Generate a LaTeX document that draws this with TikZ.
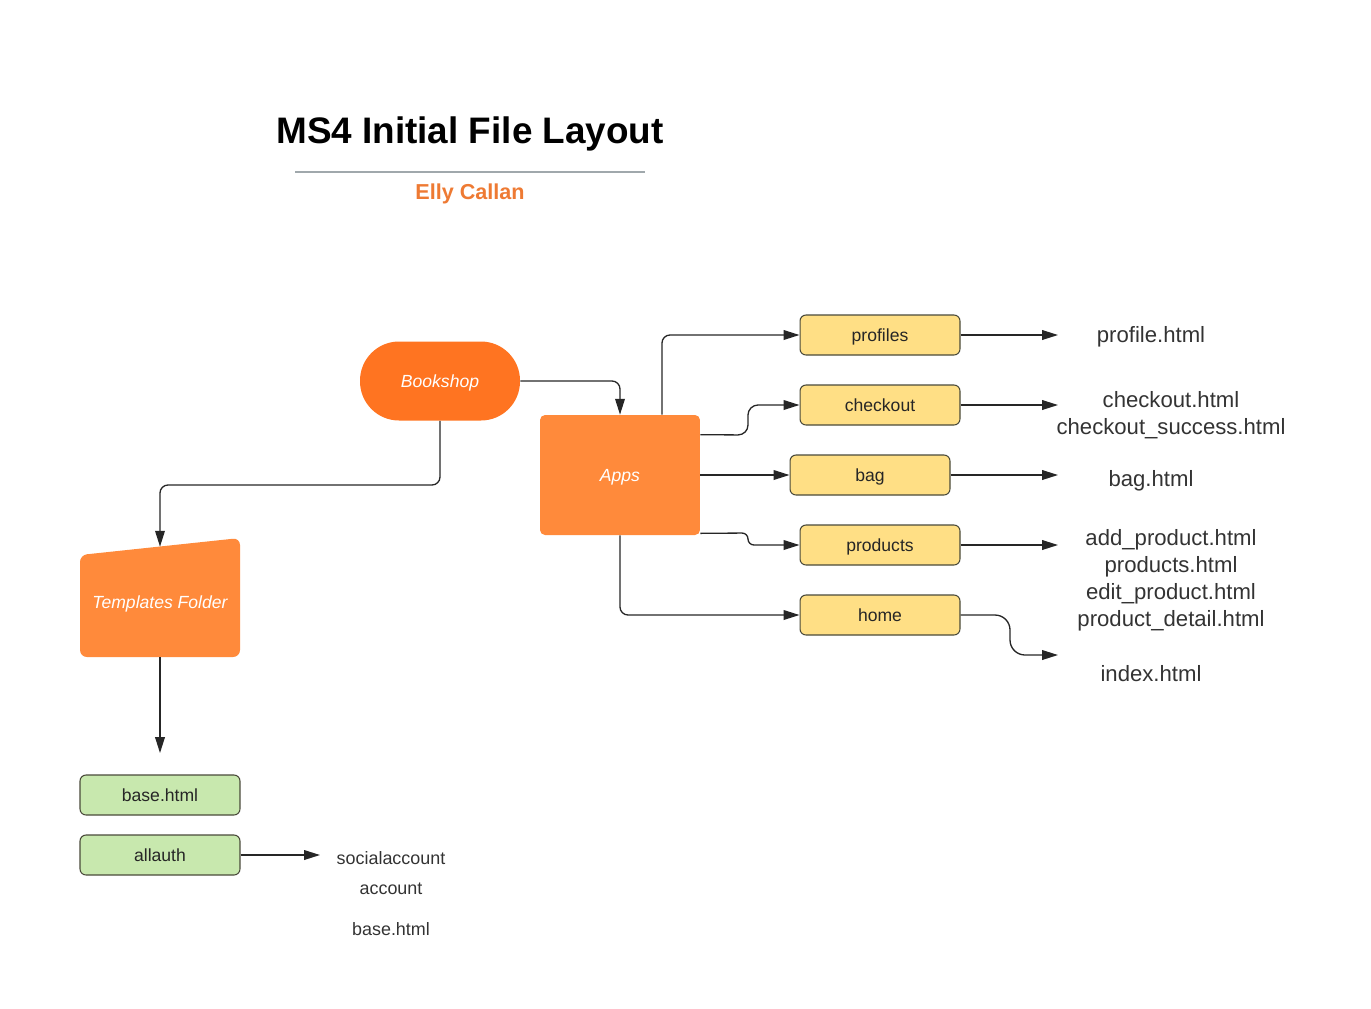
\documentclass[tikz,border=0pt]{standalone}
\usepackage{fontspec}
\setmainfont{Liberation Sans}
\usepackage{xcolor}
\usetikzlibrary{arrows.meta,positioning,calc}

\definecolor{bookorange}{HTML}{FF7421}
\definecolor{appsorange}{HTML}{FF8A3B}
\definecolor{appyellow}{HTML}{FFDF85}
\definecolor{tplgreen}{HTML}{C8E8AE}
\definecolor{boxline}{HTML}{4A4A3A}
\definecolor{namecolor}{HTML}{EE7A33}
\definecolor{filegray}{HTML}{333333}
\definecolor{rulegray}{HTML}{A0A8AC}

\tikzset{
  folder/.style={fill=appsorange, text=white, font=\fontsize{10}{12}\selectfont\itshape,
    minimum width=3.2cm, minimum height=2.4cm, inner sep=0pt, rounded corners=0.1cm,
    text depth=0pt},
  appbox/.style={draw=boxline, line width=0.6pt, fill=appyellow, rounded corners=0.12cm,
    minimum width=3.2cm, minimum height=0.8cm, inner sep=0pt, text=black!85,
    font=\fontsize{10}{12}\selectfont, text depth=0pt},
  tplbox/.style={appbox, fill=tplgreen},
  filename/.style={text=filegray, font=\fontsize{12.6}{15.3}\selectfont, align=center, inner sep=0pt},
  smallname/.style={text=filegray, font=\fontsize{10.2}{12}\selectfont, inner sep=0pt},
  conn/.style={draw=black!85, line width=0.75pt, rounded corners=0.16cm,
    -{Triangle[length=9pt,width=5.5pt]}},
}

\begin{document}
\begin{tikzpicture}[x=0.02cm, y=-0.02cm]
\useasboundingbox (0,0) rectangle (1371,1008);

% title
\node[font=\fontsize{21}{25}\selectfont\bfseries, text depth=0pt] (title) at (470,130) {MS4 Initial File Layout};
\draw[rulegray, line width=0.8pt] (295,172) -- (645,172);
\node[font=\fontsize{12.3}{15}\selectfont\bfseries, text=namecolor, text depth=0pt] (author) at (470,192) {Elly Callan};

% main blocks
\node[folder, fill=bookorange, minimum height=1.58cm, rounded corners=0.78cm] (shop) at (440,381) {Bookshop};
\node[folder] (apps) at (620,475) {Apps};

% templates folder
\fill[appsorange, rounded corners=0.14cm] (80,555) -- (240,538) -- (240,657) -- (80,657) -- cycle;
\node[folder, fill=none, minimum height=2.2cm] (tmpl) at (160,602) {Templates Folder};

% apps
\node[appbox] (prof) at (880,335) {profiles};
\node[appbox] (chk) at (880,405) {checkout};
\node[appbox] (bag) at (870,475) {bag};
\node[appbox] (prod) at (880,545) {products};
\node[appbox] (home) at (880,615) {home};

% templates
\node[tplbox] (base) at (160,795) {base.html};
\node[tplbox] (auth) at (160,855) {allauth};

% html files
\node[filename] (profhtml) at (1151,337) {profile.html};
\node[filename] (chkhtml) at (1171,415) {checkout.html\\checkout\_success.html};
\node[filename] (baghtml) at (1151,481) {bag.html};
\node[filename] (prodhtml) at (1171,580) {add\_product.html\\products.html\\edit\_product.html\\product\_detail.html};
\node[filename] (homehtml) at (1151,674) {index.html};

\node[smallname] (social) at (391,858) {socialaccount};
\node[smallname] (acct) at (391,889) {account};
\node[smallname] (subbase) at (391,929) {base.html};

% free arrow ends
\coordinate (baseend) at (160,753);
\coordinate (authend) at (320,855);
\coordinate (profend) at (1058,335);
\coordinate (chkend) at (1058,405);
\coordinate (bagend) at (1058,475);
\coordinate (prodend) at (1058,545);
\coordinate (homeend) at (1058,655);

% connectors
\draw[conn] (shop.east) -| (apps.north);
\draw[conn] (shop.south) |- (300,485) -| (tmpl.north);
\draw[conn] (tmpl.south) -- (baseend);
\draw[conn] (auth.east) -- (authend);

\draw[conn] ($(apps.north)+(42,0)$) |- (prof.west);
\draw[conn, rounded corners=0.2cm] ($(apps.north east)+(0,20)$) -- (748,435) -- (748,405) -- (chk.west);
\draw[conn] (apps.east) -- (bag.west);
\draw[conn, rounded corners=0.12cm] ($(apps.south east)+(0,-2)$) -- (748,533) -- (748,545) -- (prod.west);
\draw[conn] (apps.south) |- (home.west);

\draw[conn] (prof.east) -- (profend);
\draw[conn] (chk.east) -- (chkend);
\draw[conn] (bag.east) -- (bagend);
\draw[conn] (prod.east) -- (prodend);
\draw[conn, rounded corners=0.3cm] (home.east) -- (1010,615) -- (1010,655) -- (homeend);

\end{tikzpicture}
\end{document}
